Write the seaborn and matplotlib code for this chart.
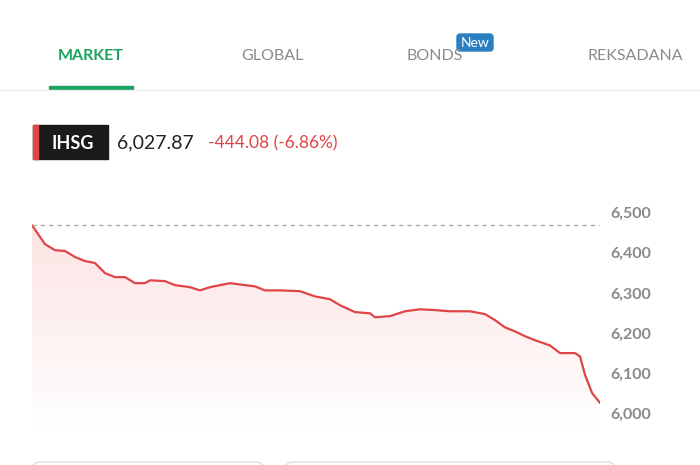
import matplotlib
matplotlib.use("Agg")
import matplotlib.pyplot as plt
import seaborn as sns
import numpy as np
from matplotlib.patches import FancyBboxPatch, Rectangle

sns.set_theme(style="white")
plt.rcParams['font.family'] = ['Lato', 'DejaVu Sans']

x_pos = [32,45,55,65,75,85,95,105,115,125,135,145,150,165,175,190,200,210,220,230,245,255,265,280,300,315,330,340,355,370,375,390,405,420,435,450,470,485,495,505,515,525,535,550,560,575,580,585,592,600]
values = [6472,6425,6410,6408,6393,6383,6378,6353,6343,6343,6328,6328,6335,6333,6323,6318,6310,6318,6323,6328,6323,6320,6310,6310,6308,6295,6288,6273,6256,6253,6243,6246,6258,6263,6261,6258,6258,6251,6236,6218,6208,6196,6186,6173,6154,6154,6146,6100,6055,6030]
prev_close = 6471.95
yticks = [6000, 6100, 6200, 6300, 6400, 6500]
tabs = ["MARKET", "GLOBAL", "BONDS", "REKSADANA"]

W, H = 700, 465
fig = plt.figure(figsize=(7, 4.65), dpi=100)
fig.patch.set_facecolor("white")
ov = fig.add_axes([0, 0, 1, 1]); ov.set_xlim(0, W); ov.set_ylim(H, 0); ov.axis("off")

# tabs
tab_x = [91, 272, 435, 635]
for t, tx in zip(tabs, tab_x):
    ov.text(tx, 56, t, ha="center", va="center", fontsize=11.5,
            color="#1aa260" if t == "MARKET" else "#8a8a8a",
            fontweight="bold" if t == "MARKET" else "normal")
ov.add_patch(Rectangle((49, 86), 84, 3, color="#1aa260"))
ov.plot([0, W], [90, 90], color="#eeeeee", lw=1)
ov.add_patch(FancyBboxPatch((457, 34), 36, 17, boxstyle="round,pad=0,rounding_size=3", color="#2a7fc1"))
ov.text(475, 43, "New", ha="center", va="center", fontsize=10, color="white")

# header
ov.add_patch(Rectangle((33, 125), 75, 34, color="#1a1a1a"))
ov.add_patch(Rectangle((33, 125), 5, 34, color="#e04545"))
ov.text(73, 143, "IHSG", ha="center", va="center", fontsize=13, color="white", fontweight="bold")
ov.text(117, 143, "6,027.87", ha="left", va="center", fontsize=14, color="#222222")
ov.text(208, 143, "-444.08 (-6.86%)", ha="left", va="center", fontsize=12.5, color="#e04545")

# bottom cards
for cx, cw in [(32, 232), (285, 330)]:
    ov.add_patch(FancyBboxPatch((cx, 462), cw, 20, boxstyle="round,pad=0,rounding_size=8",
                                fc="white", ec="#dddddd", lw=1))

# chart axes: x pixel 32..600, y 6000 at 415, 6500 at 214
px_per = (415 - 214) / 500.0
ymin = 6000 - (430 - 415) / px_per
ymax = 6500 + (214 - 195) / px_per
ax = fig.add_axes([32 / W, 1 - 430 / H, (600 - 32) / W, (430 - 195) / H])
ax.set_xlim(32, 600); ax.set_ylim(ymin, ymax)
ax.axis("off")
sns.lineplot(x=x_pos, y=values, ax=ax, color="#e04545", lw=1.6)
poly = ax.fill_between(x_pos, values, ymin, color="none")
grad = np.linspace(0, 1, 256).reshape(-1, 1)
from matplotlib.colors import LinearSegmentedColormap
cmap = LinearSegmentedColormap.from_list("g", ["#ffffff", "#fde3e3"])
im = ax.imshow(grad, extent=[32, 600, ymin, max(values)], origin="lower", cmap=cmap, aspect="auto", zorder=0)
im.set_clip_path(poly.get_paths()[0], transform=ax.transData)
ax.axhline(prev_close, color="#aaaaaa", ls=(0, (3, 3)), lw=1)
for v in yticks:
    ax.text(610, v, f"{v:,}", transform=ax.transData, ha="left", va="center",
            fontsize=11.5, color="#8a8a8a", fontweight="bold", clip_on=False)

fig.savefig("out.png", dpi=100)
